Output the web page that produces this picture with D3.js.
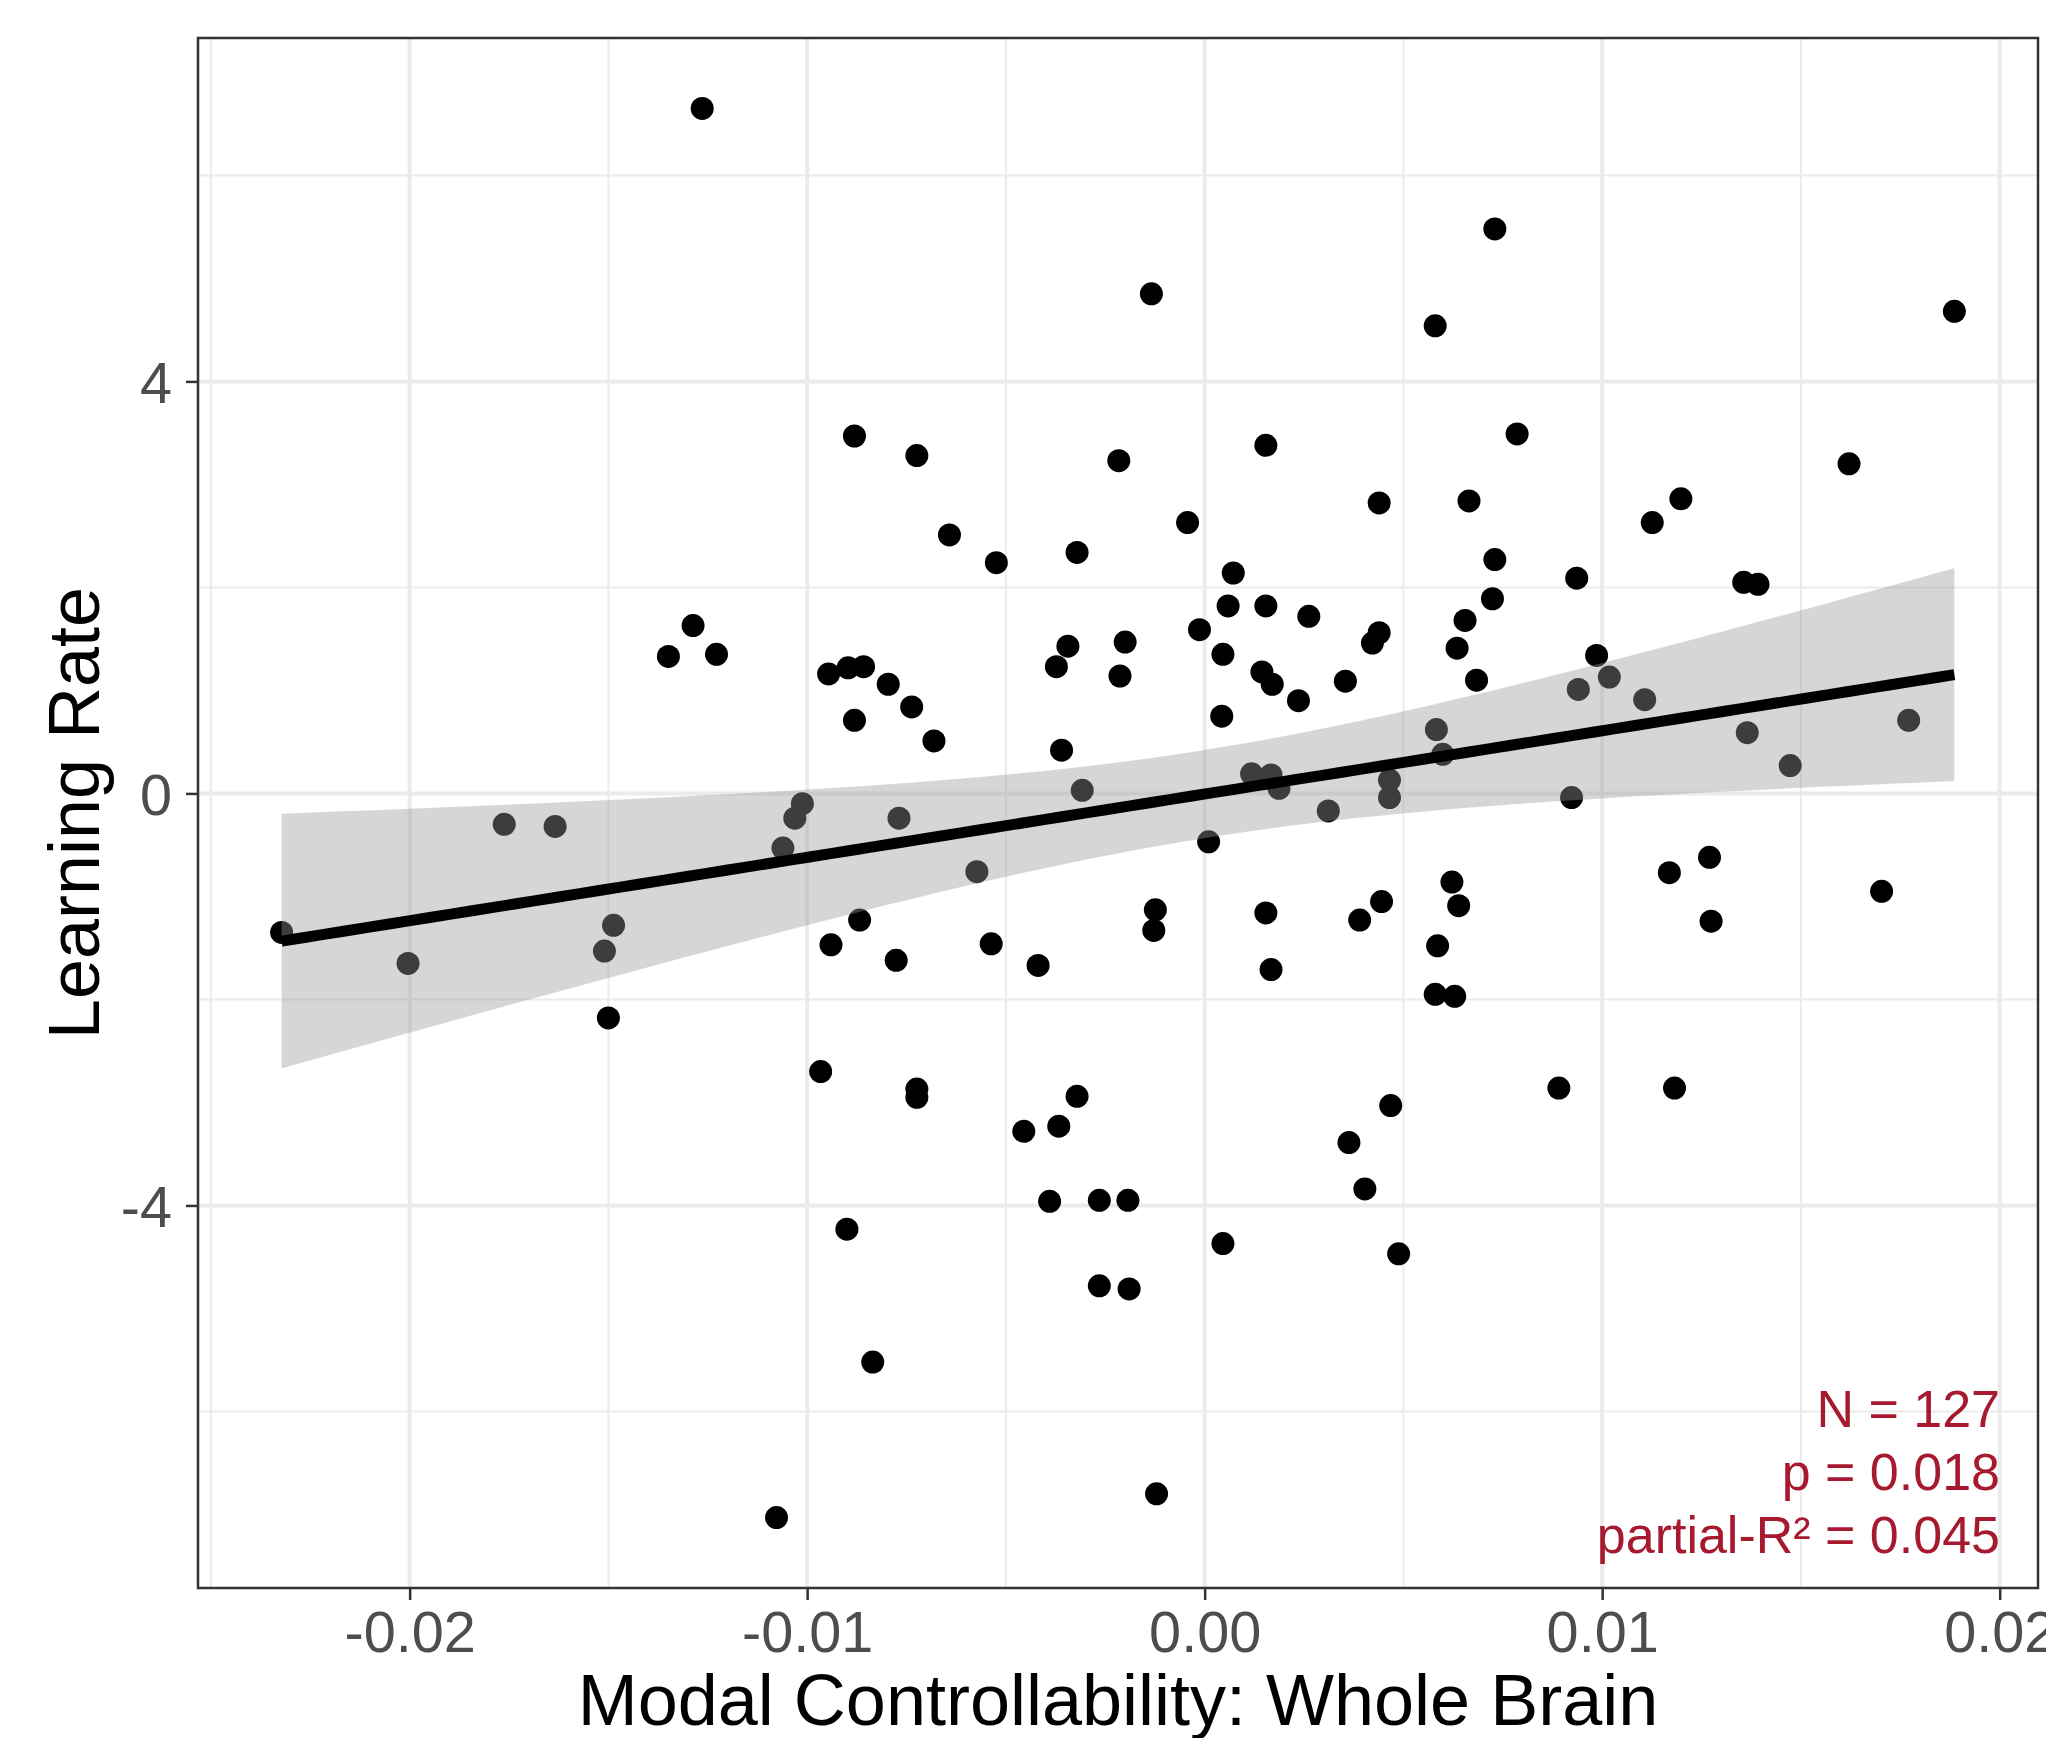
<!DOCTYPE html>
<html>
<head>
<meta charset="utf-8">
<script src="https://cdn.jsdelivr.net/npm/d3@7"></script>
<style>
  body { margin: 0; background: #fff; }
  text { font-family: "Liberation Sans", Arial, Helvetica, sans-serif; }
</style>
</head>
<body>
<svg id="chart"></svg>
<script>
// values (x = modal controllability, y = learning rate)
const modalCtrl = [
  -0.01264, 0.00730, -0.00134, 0.00580, 0.01886, -0.00881, 0.00786, 0.00154, -0.00724, -0.00216,
  0.01621, 0.01198, 0.00439, 0.00665, -0.00043, 0.01126, -0.00642, -0.00524, -0.00321, 0.00730,
  0.00072, 0.00936, 0.01356, 0.01392, 0.00059, 0.00154, 0.00724, 0.00262, 0.00655, -0.01287,
  -0.00013, -0.01349, -0.01228, -0.00200, -0.00344, 0.00439, 0.00422, 0.00635, 0.00046, 0.00986,
  -0.00373, -0.00946, -0.00897, -0.00858, -0.00213, 0.00144, 0.00170, 0.00354, 0.00684, 0.01018,
  -0.00796, -0.00737, 0.00236, 0.01107, 0.00940, -0.00881, 0.00043, -0.00681, 0.00583, 0.01771,
  0.01365, 0.00599, 0.01473, -0.00360, 0.00118, 0.00167, 0.00187, 0.00465, 0.00465, -0.00308,
  -0.01012, -0.01031, 0.00923, 0.00311, -0.01762, -0.01634, -0.00769, 0.00010, -0.01061, -0.00573,
  0.00622, 0.01270, 0.01169, 0.01703, -0.02322, -0.00124, 0.00445, 0.00639, 0.00154, -0.01487,
  -0.00868, 0.01274, -0.00128, 0.00390, -0.00940, -0.00537, 0.00586, -0.01510, -0.02004, -0.00776,
  -0.00419, 0.00167, 0.00580, 0.00629, -0.01500, -0.00966, -0.00724, -0.00724, -0.00321, 0.00891,
  0.01182, 0.00468, -0.00455, -0.00367, 0.00363, 0.00403, -0.00390, -0.00265, -0.00193, -0.00900,
  0.00046, 0.00488, -0.00265, -0.00190, -0.00835, -0.00121, -0.01077
];
const learningRate = [
  6.65, 5.48, 4.85, 4.54, 4.68, 3.47, 3.49, 3.38, 3.28, 3.23,
  3.20, 2.86, 2.82, 2.84, 2.63, 2.63, 2.51, 2.24, 2.34, 2.27,
  2.14, 2.09, 2.05, 2.03, 1.82, 1.82, 1.89, 1.72, 1.68, 1.63,
  1.59, 1.33, 1.35, 1.47, 1.43, 1.56, 1.46, 1.41, 1.35, 1.34,
  1.23, 1.16, 1.22, 1.23, 1.14, 1.18, 1.06, 1.09, 1.10, 1.13,
  1.06, 0.84, 0.90, 0.91, 1.01, 0.71, 0.75, 0.51, 0.62, 0.71,
  0.59, 0.38, 0.27, 0.42, 0.19, 0.18, 0.05, 0.13, -0.04, 0.03,
  -0.10, -0.24, -0.04, -0.17, -0.30, -0.32, -0.24, -0.47, -0.53, -0.76,
  -0.86, -0.62, -0.77, -0.95, -1.35, -1.13, -1.05, -1.09, -1.16, -1.28,
  -1.23, -1.24, -1.33, -1.23, -1.47, -1.46, -1.48, -1.53, -1.65, -1.62,
  -1.67, -1.71, -1.95, -1.97, -2.18, -2.70, -2.87, -2.95, -2.94, -2.86,
  -2.86, -3.03, -3.28, -3.23, -3.39, -3.84, -3.96, -3.95, -3.95, -4.23,
  -4.37, -4.47, -4.78, -4.81, -5.52, -6.80, -7.03
];

const xTicks = [-0.02, -0.01, 0, 0.01, 0.02];
const xTickLabels = ['-0.02', '-0.01', '0.00', '0.01', '0.02'];
const xMinor = [-0.025, -0.015, -0.005, 0.005, 0.015];
const yTicks = [-4, 0, 4];
const yTickLabels = ['-4', '0', '4'];
const yMinor = [-6, -2, 2, 6];
const statLines = ['N = 127', 'p = 0.018', 'partial-R\u00B2 = 0.045'];

const width = 2046;
const height = 1738;
const margin = { top: 38, right: 8, bottom: 150, left: 198 };

const svg = d3.select('#chart').attr('width', width).attr('height', height);

const pts = modalCtrl.map((x, i) => ({ x, y: learningRate[i] }));

// ggplot style 5% expansion
const expand = ([a, b]) => [a - (b - a) * 0.05, b + (b - a) * 0.05];

const x = d3.scaleLinear()
  .domain(expand(d3.extent(modalCtrl)))
  .range([margin.left, width - margin.right]);
const y = d3.scaleLinear()
  .domain(expand(d3.extent(learningRate)))
  .range([height - margin.bottom, margin.top]);

const [x0, x1] = x.range();
const [y0, y1] = y.range();

// gridlines
const grid = svg.append('g');
grid.selectAll('.xminor').data(xMinor).join('line')
  .attr('x1', (d) => x(d)).attr('x2', (d) => x(d))
  .attr('y1', y1).attr('y2', y0)
  .attr('stroke', '#ebebeb').attr('stroke-width', 2);
grid.selectAll('.yminor').data(yMinor).join('line')
  .attr('x1', x0).attr('x2', x1)
  .attr('y1', (d) => y(d)).attr('y2', (d) => y(d))
  .attr('stroke', '#ebebeb').attr('stroke-width', 2);
grid.append('g').selectAll('line').data(xTicks).join('line')
  .attr('x1', (d) => x(d)).attr('x2', (d) => x(d))
  .attr('y1', y1).attr('y2', y0)
  .attr('stroke', '#ebebeb').attr('stroke-width', 4);
grid.append('g').selectAll('line').data(yTicks).join('line')
  .attr('x1', x0).attr('x2', x1)
  .attr('y1', (d) => y(d)).attr('y2', (d) => y(d))
  .attr('stroke', '#ebebeb').attr('stroke-width', 4);

// points
svg.append('g').selectAll('circle').data(pts).join('circle')
  .attr('cx', (d) => x(d.x))
  .attr('cy', (d) => y(d.y))
  .attr('r', 11.5)
  .attr('fill', '#000');

// linear fit with 95% band, like geom_smooth(method = 'lm')
const n = pts.length;
const mx = d3.mean(modalCtrl);
const my = d3.mean(learningRate);
const sxx = d3.sum(modalCtrl, (v) => (v - mx) ** 2);
const sxy = d3.sum(pts, (d) => (d.x - mx) * (d.y - my));
const slope = sxy / sxx;
const icpt = my - slope * mx;
const rss = d3.sum(pts, (d) => (d.y - icpt - slope * d.x) ** 2);
const sigma = Math.sqrt(rss / (n - 2));
const tq = 1.979;
const [dmin, dmax] = d3.extent(modalCtrl);
const fit = d3.range(80).map((i) => {
  const xv = dmin + (dmax - dmin) * i / 79;
  const fv = icpt + slope * xv;
  const se = sigma * Math.sqrt(1 / n + (xv - mx) ** 2 / sxx);
  return { x: xv, y: fv, lo: fv - tq * se, hi: fv + tq * se };
});

svg.append('path')
  .datum(fit)
  .attr('d', d3.area().x((d) => x(d.x)).y0((d) => y(d.lo)).y1((d) => y(d.hi)))
  .attr('fill', '#999999')
  .attr('fill-opacity', 0.4);

svg.append('path')
  .datum(fit)
  .attr('d', d3.line().x((d) => x(d.x)).y((d) => y(d.y)))
  .attr('fill', 'none')
  .attr('stroke', '#000')
  .attr('stroke-width', 11);

// stats annotation
svg.append('g').selectAll('text').data(statLines).join('text')
  .attr('x', 2000)
  .attr('y', (d, i) => 1427 + i * 63)
  .attr('text-anchor', 'end')
  .attr('font-size', 52)
  .attr('fill', '#a6192e')
  .text((d) => d);

// axes
const xAxis = svg.append('g')
  .attr('transform', `translate(0,${y0})`)
  .call(d3.axisBottom(x).tickValues(xTicks).tickFormat((d, i) => xTickLabels[i])
    .tickSize(12).tickPadding(11));
const yAxis = svg.append('g')
  .attr('transform', `translate(${x0},0)`)
  .call(d3.axisLeft(y).tickValues(yTicks).tickFormat((d, i) => yTickLabels[i])
    .tickSize(12).tickPadding(14));

[xAxis, yAxis].forEach((g) => {
  g.select('.domain').remove();
  g.selectAll('line').attr('stroke', '#333333').attr('stroke-width', 2.5);
  g.selectAll('text')
    .attr('fill', '#4d4d4d')
    .style('font-size', '57.6px')
    .style('font-family', '"Liberation Sans", Arial, sans-serif');
});
yAxis.selectAll('text').attr('dy', '0.36em');

// panel border
svg.append('rect')
  .attr('x', x0).attr('y', y1)
  .attr('width', x1 - x0).attr('height', y0 - y1)
  .attr('fill', 'none')
  .attr('stroke', '#333333')
  .attr('stroke-width', 2.5);

// titles
svg.append('text')
  .attr('x', (x0 + x1) / 2)
  .attr('y', 1725)
  .attr('text-anchor', 'middle')
  .attr('font-size', 72)
  .attr('fill', '#000')
  .text('Modal Controllability: Whole Brain');

svg.append('text')
  .attr('transform', `translate(99,${(y0 + y1) / 2}) rotate(-90)`)
  .attr('text-anchor', 'middle')
  .attr('font-size', 72)
  .attr('fill', '#000')
  .text('Learning Rate');
</script>
</body>
</html>
